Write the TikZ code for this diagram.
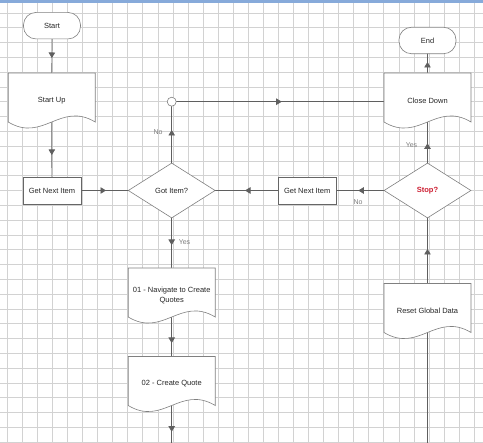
\documentclass[tikz,border=0pt]{standalone}
\usepackage{fontspec}
\setmainfont{Liberation Sans}
\usetikzlibrary{arrows.meta,decorations.markings,shadows,shapes.geometric,calc}
\pgfdeclarelayer{grid}
\pgfdeclarelayer{edges}
\pgfsetlayers{grid,edges,main}
\definecolor{gridc}{RGB}{210,210,210}
\definecolor{linec}{RGB}{95,95,95}
\definecolor{shapec}{RGB}{128,128,128}
\definecolor{labc}{RGB}{125,125,125}
\definecolor{stopred}{RGB}{205,30,50}
\definecolor{barblue}{RGB}{135,170,218}
\tikzset{
  txt/.style={font=\fontsize{7.5}{10}\selectfont, text=black!85},
  termbox/.style={txt, draw=shapec, fill=white, rounded corners=12.5pt, minimum width=57pt, minimum height=26.5pt, inner sep=0pt, line width=0.6pt},
  procbox/.style={txt, draw=shapec!80!black, fill=white, minimum width=58pt, minimum height=27pt, inner sep=0pt, line width=0.6pt, drop shadow={shadow xshift=0.9pt, shadow yshift=-0.9pt, fill=black!35, opacity=1}},
  decbox/.style={txt, diamond, draw=shapec, fill=white, minimum width=87pt, minimum height=55pt, inner sep=0pt, line width=0.6pt},
  docshape/.style={draw=shapec, fill=white, line width=0.6pt},
  doctext/.style={txt, draw=none, align=center, minimum width=87pt, minimum height=55pt, inner sep=0pt},
  junction/.style={circle, draw=shapec, fill=white, minimum size=9pt, inner sep=0pt, line width=0.6pt},
  lab/.style={font=\fontsize{7}{8}\selectfont, text=labc, inner sep=0pt},
  conn/.style={draw=linec, line width=0.7pt},
  arrowat/.style={postaction={decorate, decoration={markings, mark=at position #1 with {\arrow[linec]{Triangle[width=6.5pt,length=5.5pt]}}}}}
}
\newcommand{\mydoc}[4]{%
  \path[docshape] (#2-43.5,#3) -- (#2-43.5,#3+49) .. controls (#2-8.7,#3+70) and (#2+8.7,#3+28) .. (#2+43.5,#3+49) -- (#2+43.5,#3) -- cycle;
  \node[doctext] (#1) at (#2,#3+27.5) {#4};
}
\begin{document}
\begin{tikzpicture}[x=1pt,y=-1pt]
\useasboundingbox (0,0) rectangle (483,443);
\begin{pgfonlayer}{grid}
  \fill[white] (0,0) rectangle (483,443);
  \foreach \i in {0,...,31} \draw[gridc, line width=0.7pt] (7.3+15.06*\i,0) -- (7.3+15.06*\i,443);
  \foreach \j in {0,...,29} \draw[gridc, line width=0.7pt] (0,12.9+14.8*\j) -- (483,12.9+14.8*\j);
  \fill[barblue] (0,0) rectangle (483,3);
\end{pgfonlayer}

% terminals
\node[termbox] (start) at (52,25.7) {Start};
\node[termbox] (end) at (427.5,40.5) {End};

% documents
\mydoc{startup}{51.7}{73}{Start Up}
\mydoc{closedown}{427.5}{73}{Close Down}
\mydoc{nav}{171.7}{268}{01 - Navigate to Create\\Quotes}
\mydoc{cq}{171.7}{356.5}{02 - Create Quote}
\mydoc{reset}{427.5}{283.5}{Reset Global Data}

% processes
\node[procbox] (gni1) at (51.9,190.5) {Get Next Item};
\node[procbox] (gni2) at (307.2,190.5) {Get Next Item};

% decisions
\node[decbox] (gotitem) at (171.7,190.5) {Got Item?};
\node[decbox, text=stopred, font=\fontsize{7.5}{10}\selectfont\bfseries] (stop) at (427.5,190.5) {Stop?};

% junction
\node[junction] (circ) at (171.7,101.7) {};

\coordinate (botL) at (171.7,443);
\coordinate (botR) at (427.5,443);

% labels
\node[lab] (no1) at (158,132.3) {No};
\node[lab] (yes1) at (411.5,145) {Yes};
\node[lab] (no2) at (358,201.7) {No};
\node[lab] (yes2) at (184.5,242) {Yes};

\begin{pgfonlayer}{edges}
  \path[conn, arrowat=32.3pt] (start.center) -- (startup.center);
  \path[conn, arrowat=54.5pt] (startup.center) -- (gni1.center);
  \path[conn, arrowat=54.1pt] (gni1.center) -- (gotitem.center);
  \path[conn, arrowat=60.5pt] (gotitem.center) -- (circ.center);
  \path[conn, arrowat=110pt] (circ.center) -- (circ.center -| closedown.center);
  \path[conn, arrowat=38.5pt] (closedown.center) -- (end.center);
  \path[conn, arrowat=47.2pt] (stop.center) -- (closedown.center);
  \path[conn, arrowat=69.2pt] (stop.center) -- (gni2.center);
  \path[conn, arrowat=62.2pt] (gni2.center) -- (gotitem.center);
  \path[conn, arrowat=54.5pt] (gotitem.center) -- (nav.center);
  \path[conn, arrowat=47.5pt] (nav.center) -- (cq.center);
  \path[conn, arrowat=47.7pt] (cq.center) -- (botL);
  \path[conn] (botR) -- (reset.center);
  \path[conn, arrowat=62pt] (reset.center) -- (stop.center);
\end{pgfonlayer}
\end{tikzpicture}
\end{document}
